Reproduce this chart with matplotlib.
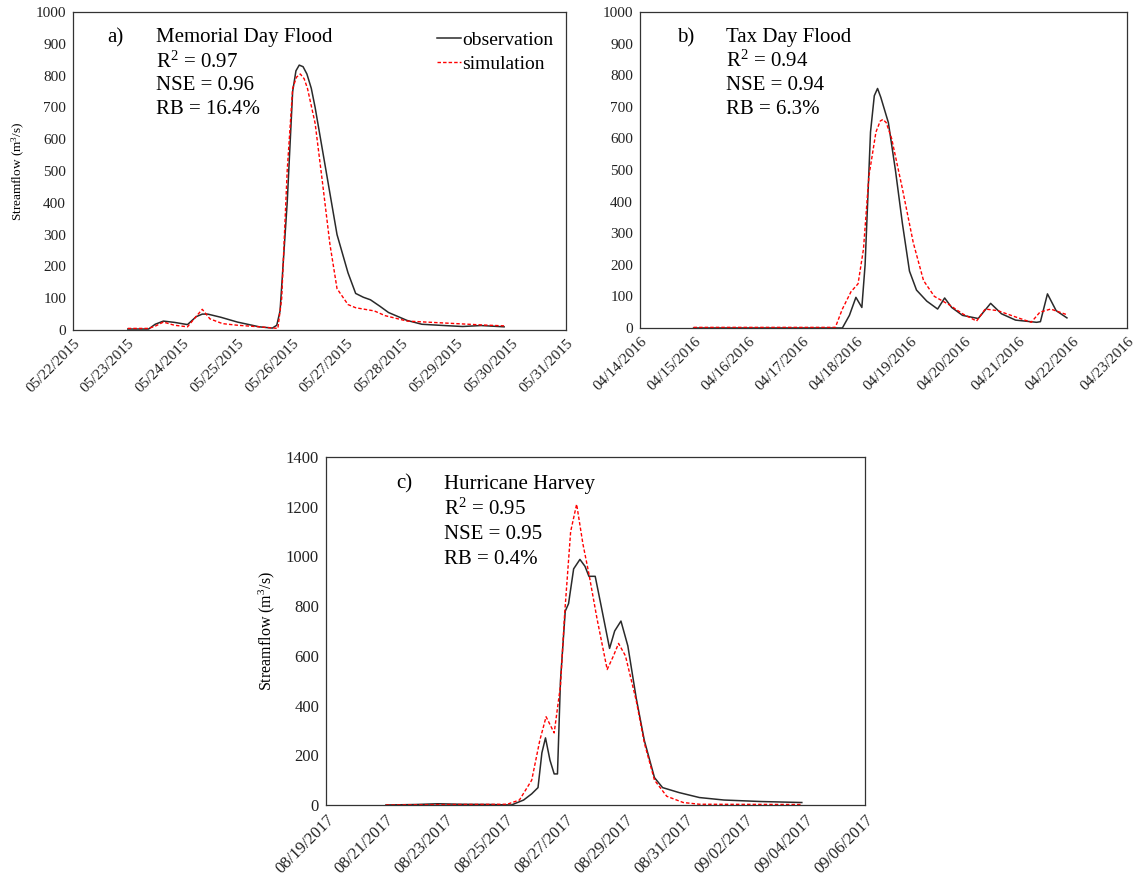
import numpy as np
import pandas as pd
import matplotlib
matplotlib.use("Agg")
import matplotlib.pyplot as plt
import matplotlib.dates as mdates

plt.rcParams["font.family"] = ["Liberation Serif", "DejaVu Serif"]
plt.rcParams["mathtext.fontset"] = "custom"
plt.rcParams["mathtext.rm"] = "Liberation Serif"
plt.rcParams["mathtext.it"] = "Liberation Serif:italic"

# a) Memorial Day Flood, days after 05/22/2015
a_obs_day = [1.0, 1.38, 1.5, 1.65, 1.85, 2.09, 2.25, 2.36, 2.46, 2.7, 3.0, 3.4, 3.64, 3.72, 3.78, 3.91, 4.01, 4.07, 4.13,
             4.2, 4.27, 4.35, 4.42, 4.62, 4.82, 5.02, 5.16, 5.3, 5.43, 5.6, 5.76, 6.1, 6.37, 6.78, 7.11, 7.45, 7.87]
a_obs_q = [3, 3, 18, 28, 24, 17, 42, 50, 50, 40, 25, 10, 6, 15, 60, 400, 750, 815, 833,
           828, 805, 760, 700, 500, 300, 180, 115, 103, 95, 75, 55, 30, 18, 14, 11, 14, 10]
a_sim_day = [1.0, 1.38, 1.5, 1.65, 1.85, 2.09, 2.26, 2.36, 2.5, 2.73, 3.0, 3.4, 3.74, 3.81, 3.91, 4.01, 4.08, 4.15,
             4.22, 4.28, 4.42, 4.55, 4.69, 4.82, 5.02, 5.16, 5.5, 5.7, 6.1, 6.78, 7.45, 7.87]
a_sim_q = [5, 5, 12, 25, 15, 10, 45, 65, 35, 20, 15, 10, 5, 100, 500, 760, 795, 805,
           790, 760, 650, 470, 270, 130, 80, 70, 60, 45, 28, 22, 16, 13]

# b) Tax Day Flood, days after 04/14/2016
b_obs_day = [0.99, 2.0, 3.0, 3.74, 3.87, 3.99, 4.1, 4.16, 4.26, 4.33, 4.39, 4.45, 4.59, 4.72, 4.85, 4.98, 5.11, 5.3,
             5.5, 5.63, 5.76, 5.96, 6.25, 6.48, 6.68, 6.94, 7.33, 7.4, 7.53, 7.69, 7.89]
b_obs_q = [0, 0, 0, 0, 40, 97, 65, 200, 620, 735, 758, 730, 650, 500, 330, 180, 120, 85,
           60, 95, 65, 40, 30, 78, 45, 25, 18, 20, 108, 55, 32]
b_sim_day = [0.99, 2.0, 3.0, 3.61, 3.74, 3.9, 4.03, 4.13, 4.23, 4.36, 4.44, 4.49, 4.55, 4.65, 4.85, 5.05, 5.24, 5.44,
             5.7, 5.96, 6.22, 6.38, 6.61, 6.94, 7.23, 7.39, 7.59, 7.89]
b_sim_q = [2, 2, 2, 2, 60, 115, 140, 250, 480, 620, 655, 660, 650, 600, 440, 270, 150, 100,
           75, 45, 22, 60, 55, 35, 18, 50, 60, 42]

# c) Hurricane Harvey, days after 08/19/2017
c_obs_day = [2.0, 3.0, 3.73, 4.5, 5.5, 6.19, 6.6, 6.87, 7.08, 7.21, 7.33, 7.48, 7.62, 7.73, 7.83, 7.99, 8.1, 8.27,
             8.48, 8.65, 8.78, 8.99, 9.19, 9.47, 9.64, 9.85, 10.08, 10.36, 10.63, 10.97, 11.24, 11.79, 12.47,
             13.29, 14.52, 15.89]
c_obs_q = [0, 2, 5, 3, 2, 0, 20, 45, 70, 210, 270, 180, 125, 125, 500, 780, 810, 950,
           988, 960, 920, 920, 800, 630, 700, 740, 640, 430, 260, 110, 70, 50, 30,
           20, 14, 10]
c_sim_day = [2.0, 3.0, 4.5, 6.05, 6.46, 6.87, 7.14, 7.35, 7.62, 7.83, 7.97, 8.17, 8.37, 8.58, 8.78, 9.05, 9.39,
             9.6, 9.77, 10.0, 10.36, 10.63, 10.97, 11.38, 11.93, 12.47, 15.89]
c_sim_q = [0, 1, 2, 3, 20, 100, 260, 355, 290, 480, 770, 1100, 1210, 1050, 930, 750, 545,
           600, 650, 600, 420, 250, 100, 35, 10, 3, 2]

panels = [
    dict(start="2015-05-22", end="2015-05-31", step=1, ymax=1000, ystep=100,
         obs=(a_obs_day, a_obs_q), sim=(a_sim_day, a_sim_q),
         tag="a)", lines=["Memorial Day Flood", r"$\mathrm{R}^2$ = 0.97", "NSE = 0.96", "RB = 16.4%"],
         pos=[73 / 1138, 1 - 330 / 882, 493 / 1138, 318 / 882], tx=(0.069, 0.168), ty=0.919, dy=0.0755,
         ylabel=True, ylfs=9.5, tfs=11, legend=True),
    dict(start="2016-04-14", end="2016-04-23", step=1, ymax=1000, ystep=100,
         obs=(b_obs_day, b_obs_q), sim=(b_sim_day, b_sim_q),
         tag="b)", lines=["Tax Day Flood", r"$\mathrm{R}^2$ = 0.94", "NSE = 0.94", "RB = 6.3%"],
         pos=[640 / 1138, 1 - 328 / 882, 487 / 1138, 316 / 882], tx=(0.076, 0.177), ty=0.919, dy=0.076,
         ylabel=False, ylfs=9.5, tfs=11, legend=False),
    dict(start="2017-08-19", end="2017-09-06", step=2, ymax=1400, ystep=200,
         obs=(c_obs_day, c_obs_q), sim=(c_sim_day, c_sim_q),
         tag="c)", lines=["Hurricane Harvey", r"$\mathrm{R}^2$ = 0.95", "NSE = 0.95", "RB = 0.4%"],
         pos=[326 / 1138, 1 - 805 / 882, 539 / 1138, 348 / 882], tx=(0.130, 0.219), ty=0.922, dy=0.0718,
         ylabel=True, ylfs=11.5, tfs=12, legend=False),
]

fig = plt.figure(figsize=(11.38, 8.82), dpi=100)

for p in panels:
    ax = fig.add_axes(p["pos"])
    t0 = pd.Timestamp(p["start"])
    obs_t = t0 + pd.to_timedelta(p["obs"][0], unit="D")
    sim_t = t0 + pd.to_timedelta(p["sim"][0], unit="D")
    ax.plot(obs_t, p["obs"][1], color="#2a2a2a", lw=1.1, label="observation")
    ax.plot(sim_t, p["sim"][1], color="red", lw=1.0, ls=(0, (2.5, 1.5)), label="simulation")

    ax.set_xlim(pd.Timestamp(p["start"]), pd.Timestamp(p["end"]))
    ax.set_ylim(0, p["ymax"])
    ax.set_yticks(np.arange(0, p["ymax"] + 1, p["ystep"]))
    ax.xaxis.set_major_locator(mdates.DayLocator(interval=p["step"]))
    ax.xaxis.set_major_formatter(mdates.DateFormatter("%m/%d/%Y"))
    ax.tick_params(axis="both", length=0, labelsize=p["tfs"], pad=5, colors="#222222")
    for lab in ax.get_xticklabels():
        lab.set_rotation(45)
        lab.set_ha("right")
        lab.set_rotation_mode("anchor")
    for s in ax.spines.values():
        s.set_linewidth(0.9)
        s.set_color("#333333")
    if p["ylabel"]:
        ax.set_ylabel("Streamflow (m$^3$/s)", fontsize=p["ylfs"], labelpad=6)

    ax.text(p["tx"][0], p["ty"], p["tag"], transform=ax.transAxes, fontsize=15, va="center")
    for i, line in enumerate(p["lines"]):
        ax.text(p["tx"][1], p["ty"] - i * p["dy"], line, transform=ax.transAxes,
                fontsize=15, va="center")

    if p["legend"]:
        ax.legend(loc="upper right", bbox_to_anchor=(0.975, 0.94), frameon=False, fontsize=14,
                  handlelength=1.2, handletextpad=0.1, borderpad=0, borderaxespad=0, labelspacing=0.35)

fig.savefig("out.png", dpi=100)
